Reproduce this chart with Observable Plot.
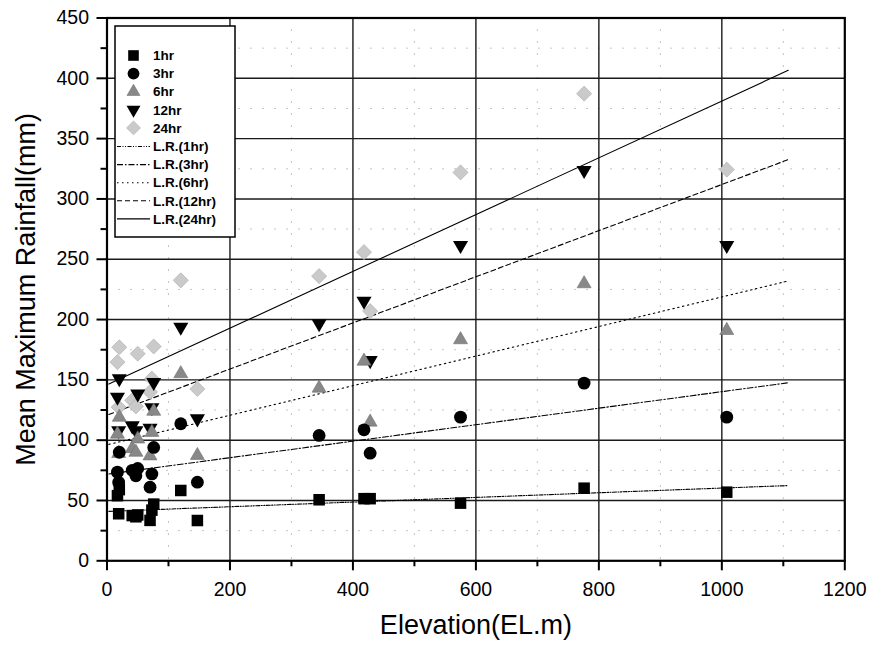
<!DOCTYPE html>
<html>
<head>
<meta charset="utf-8">
<script src="https://cdn.jsdelivr.net/npm/d3@7"></script>
<script src="https://cdn.jsdelivr.net/npm/@observablehq/plot@0.6"></script>
<style>
  html, body { margin: 0; padding: 0; background: #fff; }
  #chart svg { display: block; }
</style>
</head>
<body>
<div id="chart"></div>
<script>
// ---- data ----
const elevation = [17, 19, 20, 41, 47, 50, 70, 73, 76, 120, 147, 345, 418, 428, 575, 776, 1008];
const hr1  = [54, 39, 59, 37.5, 36.5, 38, 33.5, 42, 47, 58.3, 33.4, 50.6, 51.5, 51.5, 47.8, 60.2, 56.9];
const hr3  = [73.5, 65, 90, 75, 70.5, 76.5, 61, 72, 94, 113.6, 65.2, 103.9, 108.6, 89.2, 119.1, 147.3, 119.1];
const hr6  = [105, 89, 119, 93, 90, 101, 87, 106.5, 124, 155.1, 87.3, 143.1, 165.5, 115, 183.3, 229.7, 191];
const hr12 = [135.7, 108, 151, 112, 108, 138.5, 110, 127, 148, 193.7, 117.8, 196.6, 215.3, 166.1, 261.5, 323.7, 261.5];
const hr24 = [164.7, 127.4, 177, 133, 128, 171.7, 140, 151, 177.7, 232.5, 142.4, 236, 255.9, 207, 322, 387.3, 324.3];

// linear-regression lines: end points
const lrX   = [3, 1108];
const lr1   = [41, 62.4];
const lr3   = [72, 147.6];
const lr6   = [96.5, 232];
const lr12  = [121.3, 332.6];
const lr24  = [146.5, 406.6];

const seriesNames = ["1hr", "3hr", "6hr", "12hr", "24hr"];
const lrNames = ["L.R.(1hr)", "L.R.(3hr)", "L.R.(6hr)", "L.R.(12hr)", "L.R.(24hr)"];
const xTicks = [0, 200, 400, 600, 800, 1000, 1200];
const yTicks = [0, 50, 100, 150, 200, 250, 300, 350, 400, 450];

// ---- styles ----
const triDown = {
  draw(ctx, size) {
    const y = -Math.sqrt(size / (Math.sqrt(3) * 3));
    ctx.moveTo(0, -y * 2);
    ctx.lineTo(-Math.sqrt(3) * y, y);
    ctx.lineTo(Math.sqrt(3) * y, y);
    ctx.closePath();
  }
};
const symStyle = [
  {symbol: d3.symbolSquare,   r: 6.5, fill: "#000", stroke: "none"},
  {symbol: d3.symbolCircle,   r: 6.4, fill: "#000", stroke: "none"},
  {symbol: d3.symbolTriangle, r: 5.2, fill: "#888", stroke: "#707070"},
  {symbol: triDown,           r: 5.6, fill: "#000", stroke: "none"},
  {symbol: d3.symbolDiamond2, r: 6.8, fill: "#cacaca", stroke: "#ababab"}
];
const dashes = ["4,1.5,1,1.5,1,1.5", "6,2,1.5,2", "1.5,3.5", "5,3", null];

const values = [hr1, hr3, hr6, hr12, hr24];
const lrY = [lr1, lr3, lr6, lr12, lr24];

const pts = values.map(vs => vs.map((v, i) => ({x: elevation[i], y: v})));
const lines = lrY.map(ys => ys.map((v, i) => ({x: lrX[i], y: v})));

const minorX = d3.range(100, 1200, 200);
const minorY = d3.range(25, 450, 50);

const marks = [
  Plot.gridX(minorX, {stroke: "#8a8a8a", strokeOpacity: 1, strokeDasharray: "1,11", strokeWidth: 1}),
  Plot.gridY(minorY, {stroke: "#8a8a8a", strokeOpacity: 1, strokeDasharray: "1,11", strokeWidth: 1}),
  Plot.gridX([200, 400, 600, 800, 1000], {stroke: "#1a1a1a", strokeOpacity: 1, strokeWidth: 1.4}),
  Plot.gridY([50, 100, 150, 200, 250, 300, 350, 400], {stroke: "#1a1a1a", strokeOpacity: 1, strokeWidth: 1.4}),
  ...lines.map((ln, k) => Plot.line(ln, {x: "x", y: "y", stroke: "#000", strokeWidth: 1.1, strokeDasharray: dashes[k]})),
  ...pts.slice().reverse().map((p, kk) => {
    const k = pts.length - 1 - kk;
    const s = symStyle[k];
    return Plot.dot(p, {x: "x", y: "y", symbol: () => s.symbol, r: s.r, fill: s.fill, stroke: s.stroke, strokeWidth: 0.6});
  }),
  Plot.frame({stroke: "#000", strokeWidth: 2.2}),
  Plot.axisX({ticks: xTicks, tickSize: 10, tickPadding: 11, fontSize: 19.5, tickFormat: d => String(d), label: null, strokeWidth: 2}),
  Plot.axisX({ticks: minorX, tickSize: 6, text: null, label: null, strokeWidth: 2}),
  Plot.axisY({ticks: yTicks, tickSize: 10, tickPadding: 8, fontSize: 19.5, tickFormat: d => String(d), label: null, strokeWidth: 2}),
  Plot.axisY({ticks: minorY, tickSize: 6, text: null, label: null, strokeWidth: 2}),
  Plot.text(["Elevation(EL.m)"], {frameAnchor: "bottom", dy: 65, fontSize: 27, lineAnchor: "middle", textAnchor: "middle"}),
  Plot.text(["Mean Maximum Rainfall(mm)"], {frameAnchor: "left", dx: -81, rotate: -90, fontSize: 27, textAnchor: "middle", lineAnchor: "middle"})
];

const chart = Plot.plot({
  width: 872,
  height: 650,
  marginLeft: 106.5,
  marginRight: 27.7,
  marginTop: 17.5,
  marginBottom: 89.7,
  x: {domain: [0, 1200]},
  y: {domain: [0, 450]},
  style: {fontFamily: "'Liberation Sans', Arial, sans-serif", background: "#fff", color: "#000"},
  marks
});

// ---- legend (drawn into the same SVG) ----
const svg = d3.select(chart);
const lg = svg.append("g")
  .attr("font-family", "'Liberation Sans', Arial, sans-serif")
  .attr("text-anchor", "start");
lg.append("rect").attr("x", 115).attr("y", 26).attr("width", 120).attr("height", 211)
  .attr("fill", "#fff").attr("stroke", "#000").attr("stroke-width", 1.5);
const rowY0 = 55.5, rowStep = 18.1;
seriesNames.forEach((name, k) => {
  const s = symStyle[k];
  const y = rowY0 + k * rowStep;
  lg.append("path")
    .attr("d", d3.symbol().type(s.symbol).size(Math.PI * s.r * s.r * 0.85)())
    .attr("transform", `translate(133.5,${y})`)
    .attr("fill", s.fill).attr("stroke", s.stroke).attr("stroke-width", 0.6);
  lg.append("text").attr("x", 153).attr("y", y).attr("dy", "0.35em")
    .attr("text-anchor", "start")
    .attr("font-size", 13.5).attr("font-weight", "bold").text(name);
});
lrNames.forEach((name, k) => {
  const y = rowY0 + (k + 5) * rowStep + 0.5;
  lg.append("line").attr("x1", 117).attr("x2", 150).attr("y1", y).attr("y2", y)
    .attr("stroke", "#000").attr("stroke-width", 1.1)
    .attr("stroke-dasharray", dashes[k] || null);
  lg.append("text").attr("x", 153).attr("y", y).attr("dy", "0.35em")
    .attr("text-anchor", "start")
    .attr("font-size", 13.5).attr("font-weight", "bold").text(name);
});

document.getElementById("chart").appendChild(chart);
</script>
</body>
</html>
